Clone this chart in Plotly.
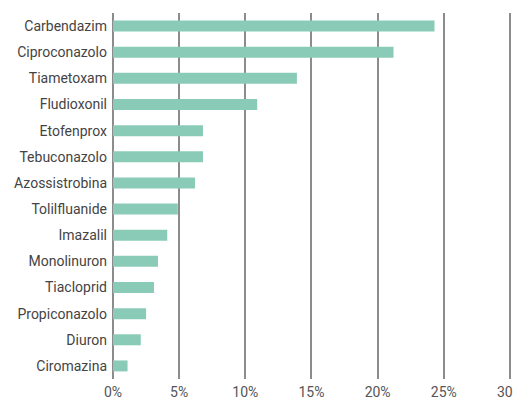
import plotly.graph_objects as go

categories = ["Carbendazim", "Ciproconazolo", "Tiametoxam", "Fludioxonil", "Etofenprox",
              "Tebuconazolo", "Azossistrobina", "Tolilfluanide", "Imazalil", "Monolinuron",
              "Tiacloprid", "Propiconazolo", "Diuron", "Ciromazina"]
values = [24.3, 21.2, 13.9, 10.9, 6.8, 6.8, 6.2, 4.9, 4.1, 3.4, 3.1, 2.5, 2.1, 1.1]
tick_vals = [0, 5, 10, 15, 20, 25, 30]
tick_text = ["0%", "5%", "10%", "15%", "20%", "25%", "30%"]

fig = go.Figure(go.Bar(
    x=values, y=categories, orientation="h",
    marker=dict(color="#8ACBB7", line=dict(width=0)),
    width=0.42,
))
fig.update_layout(
    width=513, height=399,
    margin=dict(l=113, r=2, t=13, b=20),
    paper_bgcolor="white", plot_bgcolor="white",
    font=dict(family="Roboto", size=14, color="#444444"),
    showlegend=False,
    bargap=0.58,
)
fig.update_xaxes(
    range=[0, 30.08], tickvals=tick_vals, ticktext=tick_text,
    showgrid=True, gridcolor="#8c8c8c", gridwidth=1.5,
    zeroline=True, zerolinecolor="#8c8c8c", zerolinewidth=1.5,
    showline=False, ticks="", ticklabelstandoff=3, automargin=False,
    ticklabeloverflow="allow",
    tickfont=dict(size=14, color="#555555"),
)
fig.update_yaxes(
    categoryorder="array", categoryarray=categories[::-1],
    showgrid=False, zeroline=False, showline=False, ticks="",
    ticklabelstandoff=5, automargin=False,
    tickfont=dict(size=14, color="#444444"),
)
fig.write_html(
    "out.html",
    config={"displayModeBar": False},
    post_script="document.body.style.margin='0';document.documentElement.style.overflow='hidden';document.body.style.overflow='hidden';",
)
